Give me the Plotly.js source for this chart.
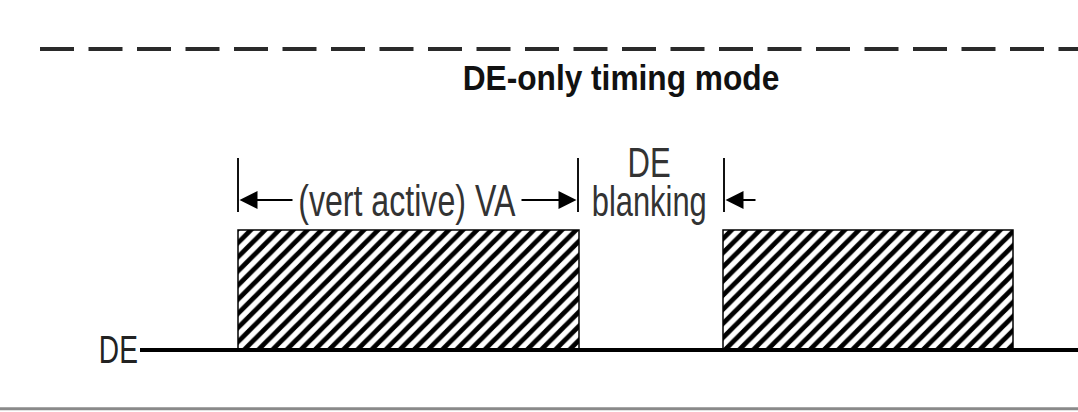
<!DOCTYPE html>
<html>
<head>
<meta charset="utf-8">
<script src="https://cdn.plot.ly/plotly-3.0.1.min.js"></script>
<style>
html,body{margin:0;padding:0;background:#fff;}
#chart{width:1078px;height:412px;}
/* narrow the Arial-metric font to a condensed look, like the reference */
#chart text.annotation-text{transform-box:fill-box;transform-origin:center;transform:scaleX(0.82);}
#chart g.annotation[data-index="0"] text.annotation-text{transform:scaleX(0.88);}
#chart g.annotation[data-index="1"] text.annotation-text{transform:scaleX(0.74);}
#chart g.annotation[data-index="2"] text.annotation-text{transform:scaleX(0.73);}
#chart g.annotation[data-index="3"] text.annotation-text{transform:scaleX(0.74);}
#chart g.annotation[data-index="4"] text.annotation-text{transform:scaleX(0.735);}
</style>
</head>
<body>
<div id="chart"></div>
<script>
// ---- data (timing positions in diagram units, signal levels) ----
const pulseStart = [238, 723];          // rising edges of DE active periods
const pulseEnd = [579, 1013];           // falling edges
const levelLow = 0;
const levelHigh = 1;
const signalName = 'DE';
const diagramTitle = 'DE-only timing mode';
const vaLabel = '(vert active) VA';
const blankingLabel = ['DE', 'blanking'];
const traceStartX = 140;
const traceEndX = 1078;
const markerX = [238, 578, 724];        // dimension marker positions
const markerY = [1.15, 1.6];
const arrowY = 1.25;
const vaArrowInner = [294, 520];        // where VA arrow shafts end (near label)
const blankArrowTail = 757;
const separatorY = 2.508;
const separatorX = [40, 1078];
const bottomRuleY = -0.49;

const FONT = '"Liberation Sans", Arial, sans-serif';

const bars = {
  type: 'bar',
  x: pulseStart.map((s, i) => (s + pulseEnd[i]) / 2),
  width: pulseStart.map((s, i) => pulseEnd[i] - s),
  y: pulseStart.map(() => levelHigh - levelLow),
  base: pulseStart.map(() => levelLow),
  marker: {
    color: '#ffffff',
    line: {color: '#000', width: 1.5},
    pattern: {shape: '/', size: 10, solidity: 0.48, fgcolor: '#000', bgcolor: '#fff', fillmode: 'replace'}
  },
  hoverinfo: 'skip',
  showlegend: false
};

const baseline = {
  type: 'scatter', mode: 'lines',
  x: [traceStartX, traceEndX], y: [levelLow, levelLow],
  line: {color: '#000', width: 4},
  hoverinfo: 'skip', showlegend: false
};

const shapes = [
  {type: 'line', xref: 'x', yref: 'y', x0: separatorX[0], x1: separatorX[1], y0: separatorY, y1: separatorY,
   line: {color: '#2a2a2a', width: 4, dash: '34px,14.5px'}},
  {type: 'line', xref: 'x', yref: 'y', x0: 0, x1: traceEndX, y0: bottomRuleY, y1: bottomRuleY,
   line: {color: '#8a8a8a', width: 3}}
].concat(markerX.map(x => ({
  type: 'line', xref: 'x', yref: 'y', x0: x, x1: x, y0: markerY[0], y1: markerY[1],
  line: {color: '#111', width: 2}
})));

function arrow(tip, tail) {
  return {x: tip + (tail > tip ? 1.5 : -1.5), y: arrowY, ax: tail, ay: arrowY, axref: 'x', ayref: 'y', xref: 'x', yref: 'y',
          text: '', showarrow: true, arrowhead: 2, arrowsize: 1.8, arrowwidth: 2, arrowcolor: '#000'};
}

const annotations = [
  {x: 621, y: 2.275, xref: 'x', yref: 'y', text: '<b>' + diagramTitle + '</b>', showarrow: false,
   font: {family: FONT, size: 36, color: '#111'}},
  {x: 118, y: levelLow, xref: 'x', yref: 'y', text: signalName, showarrow: false,
   font: {family: FONT, size: 38, color: '#222'}},
  {x: 407, y: arrowY, xref: 'x', yref: 'y', text: vaLabel, showarrow: false,
   font: {family: FONT, size: 44, color: '#333'}},
  {x: 649, y: 1.56, xref: 'x', yref: 'y', text: blankingLabel[0], showarrow: false,
   font: {family: FONT, size: 42, color: '#333'}},
  {x: 649, y: 1.24, xref: 'x', yref: 'y', text: blankingLabel[1], showarrow: false,
   font: {family: FONT, size: 42, color: '#333'}},
  arrow(markerX[0], vaArrowInner[0]),
  arrow(markerX[1], vaArrowInner[1]),
  arrow(markerX[2], blankArrowTail)
];

const layout = {
  width: 1078, height: 412,
  margin: {l: 0, r: 0, t: 0, b: 0, pad: 0},
  paper_bgcolor: '#ffffff', plot_bgcolor: '#ffffff',
  xaxis: {range: [0, 1078], visible: false, fixedrange: true},
  yaxis: {range: [-0.5167, 2.9167], visible: false, fixedrange: true},
  shapes: shapes,
  annotations: annotations,
  showlegend: false,
  bargap: 0
};

Plotly.newPlot('chart', [bars, baseline], layout, {staticPlot: true, displayModeBar: false});
</script>
</body>
</html>
